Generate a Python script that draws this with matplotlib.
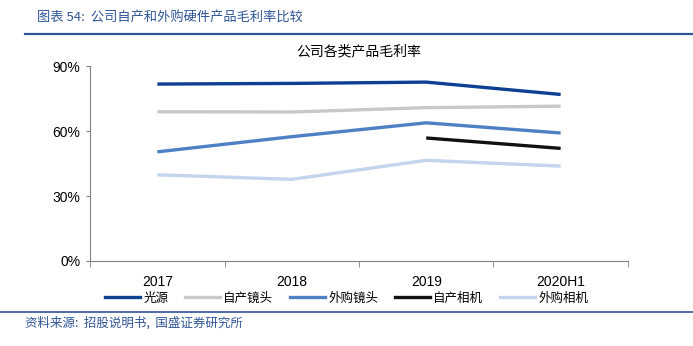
"""Gross margin comparison of in-house vs purchased hardware products."""

import matplotlib.pyplot as plt
import numpy as np
from matplotlib.lines import Line2D
from matplotlib.ticker import FuncFormatter

categories = ["2017", "2018", "2019", "2020H1"]
series_names = ["光源", "自产镜头", "外购镜头", "自产相机", "外购相机"]
light_source = [81.7, 82.0, 82.6, 76.9]
own_lens = [68.9, 68.8, 70.8, 71.5]
bought_lens = [50.4, 57.4, 63.8, 59.1]
own_camera = [np.nan, np.nan, 56.8, 52.0]
bought_camera = [39.8, 37.7, 46.5, 43.8]
y_ticks = [0, 30, 60, 90]

colors = ["#0D3F92", "#C8C8C8", "#4E80C6", "#111111", "#C3D4EC"]

plt.rcParams["font.family"] = ["Liberation Sans", "Noto Sans CJK SC", "DejaVu Sans"]
cjk = ["Noto Sans CJK SC", "DejaVu Sans"]

fig = plt.figure(figsize=(6.93, 3.46), dpi=100)
ax = fig.add_axes([0.130, 0.2457, 0.776, 0.5633])

x = np.arange(len(categories))
all_series = [light_source, own_lens, bought_lens, own_camera, bought_camera]
for values, color, name in zip(all_series, colors, series_names):
    ax.plot(x, values, color=color, lw=2.4, solid_capstyle="butt", label=name)

ax.set_xlim(-0.5, len(categories) - 0.5)
ax.set_ylim(0, 90)
ax.set_yticks(y_ticks)
ax.yaxis.set_major_formatter(FuncFormatter(lambda v, _: f"{v:.0f}%"))
ax.set_xticks(x)
ax.set_xticklabels(categories)
ax.set_xticks(np.arange(-0.5, len(categories)), minor=True)
ax.tick_params(axis="x", which="major", length=0, pad=10, labelsize=10)
ax.tick_params(axis="x", which="minor", length=4, color="#808080", direction="out")
ax.tick_params(axis="y", length=3, color="#808080", labelsize=10, pad=4)

for side in ["top", "right"]:
    ax.spines[side].set_visible(False)
for side in ["left", "bottom"]:
    ax.spines[side].set_color("#808080")
    ax.spines[side].set_linewidth(0.8)

ax.set_title("公司各类产品毛利率", family=cjk, fontsize=10, pad=8)

handles = [Line2D([], [], color=c, lw=2.4) for c in colors]
fig.legend(handles, series_names, loc="center", bbox_to_anchor=(0.5, 1 - 298 / 346),
           ncol=5, frameon=False, handlelength=2.8, handletextpad=0.3,
           columnspacing=1.3, prop={"family": cjk, "size": 9})

fig.text(37 / 693, 1 - 18 / 346, "图表 54:  公司自产和外购硬件产品毛利率比较",
         family=cjk, fontsize=9.5, color="#2F5597", va="center", ha="left")
fig.add_artist(Line2D([25 / 693, 1.0], [1 - 34 / 346] * 2, color="#2F5597", lw=1.6))
fig.add_artist(Line2D([0.0, 1.0], [1 - 312 / 346] * 2, color="#2F5597", lw=1.2))
fig.text(25 / 693, 1 - 323 / 346, "资料来源:  招股说明书,  国盛证券研究所",
         family=cjk, fontsize=9, color="#2F5597", va="center", ha="left")

fig.savefig("out.png", dpi=100)
